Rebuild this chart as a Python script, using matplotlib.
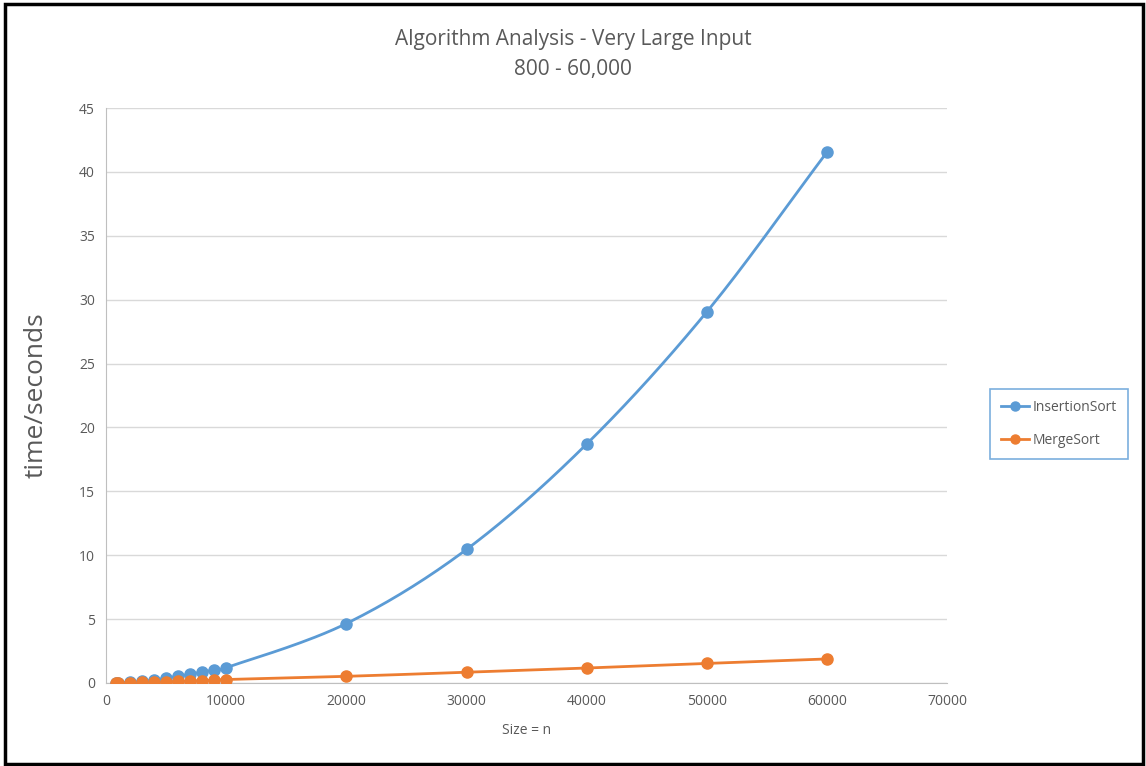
import numpy as np
import matplotlib.pyplot as plt
from matplotlib.patches import Rectangle

# 数据
sizes = [800, 1000, 2000, 3000, 4000, 5000, 6000, 7000, 8000, 9000, 10000,
         20000, 30000, 40000, 50000, 60000]
insertion = [0.02, 0.03, 0.06, 0.13, 0.23, 0.37, 0.53, 0.68, 0.86, 1.0, 1.2,
             4.65, 10.45, 18.7, 29.05, 41.55]
merge = [0.01, 0.02, 0.03, 0.05, 0.07, 0.09, 0.12, 0.15, 0.18, 0.21, 0.27,
         0.52, 0.84, 1.17, 1.53, 1.88]

blue = '#5B9BD5'
orange = '#ED7D31'
textc = '#595959'


def smooth(x, y, n=30):
    # Catmull-Rom 平滑曲线，类似 Excel 的平滑线
    x = np.asarray(x, float)
    y = np.asarray(y, float)
    px = np.concatenate([[2 * x[0] - x[1]], x, [2 * x[-1] - x[-2]]])
    py = np.concatenate([[2 * y[0] - y[1]], y, [2 * y[-1] - y[-2]]])
    t = np.linspace(0, 1, n)
    xs, ys = [], []
    for i in range(1, len(px) - 2):
        for p, out in ((px, xs), (py, ys)):
            p0, p1, p2, p3 = p[i - 1], p[i], p[i + 1], p[i + 2]
            out.append(0.5 * ((2 * p1) + (-p0 + p2) * t
                              + (2 * p0 - 5 * p1 + 4 * p2 - p3) * t ** 2
                              + (-p0 + 3 * p1 - 3 * p2 + p3) * t ** 3))
    return np.concatenate(xs), np.concatenate(ys)


plt.rcParams['font.family'] = ['Open Sans', 'DejaVu Sans']

fig = plt.figure(figsize=(11.46, 7.66), dpi=100)
ax = fig.add_axes([0.0925, 0.1084, 0.734, 0.7506])

for y, c, lab in ((insertion, blue, 'InsertionSort'), (merge, orange, 'MergeSort')):
    sx, sy = smooth(sizes, y)
    ax.plot(sx, sy, color=c, lw=2, zorder=3)
    ax.plot(sizes, y, 'o', color=c, ms=8, zorder=4)
    ax.plot([], [], '-o', color=c, lw=2, ms=6.5, label=lab)

ax.set_xlim(0, 70000)
ax.set_ylim(0, 45)
ax.set_xticks(range(0, 70001, 10000))
ax.set_yticks(range(0, 46, 5))
ax.grid(axis='y', color='#D9D9D9', lw=1)
ax.set_axisbelow(True)
for s in ('top', 'right'):
    ax.spines[s].set_visible(False)
for s in ('left', 'bottom'):
    ax.spines[s].set_color('#BFBFBF')
ax.tick_params(length=0, colors=textc, labelsize=10, pad=8)

ax.set_xlabel('Size = n', color=textc, fontsize=10, labelpad=10)
ax.set_ylabel('time/seconds', color=textc, fontsize=19, labelpad=22)
fig.text(0.5, 0.948, 'Algorithm Analysis - Very Large Input', ha='center', va='center',
         color=textc, fontsize=15)
fig.text(0.5, 0.909, '800 - 60,000', ha='center', va='center', color=textc, fontsize=15)

leg = ax.legend(loc='center left', bbox_to_anchor=(1.051, 0.45), frameon=True,
                fancybox=False, fontsize=10, labelspacing=1.3, handlelength=2.0,
                handletextpad=0.3, borderpad=0.8, borderaxespad=0)
leg.get_frame().set_edgecolor(blue)
leg.get_frame().set_linewidth(1.2)
for t in leg.get_texts():
    t.set_color(textc)

fig.patches.append(Rectangle((0.004, 0.003), 0.993, 0.992, transform=fig.transFigure,
                             fill=False, ec='black', lw=2.5))

plt.savefig('out.png', dpi=100)
